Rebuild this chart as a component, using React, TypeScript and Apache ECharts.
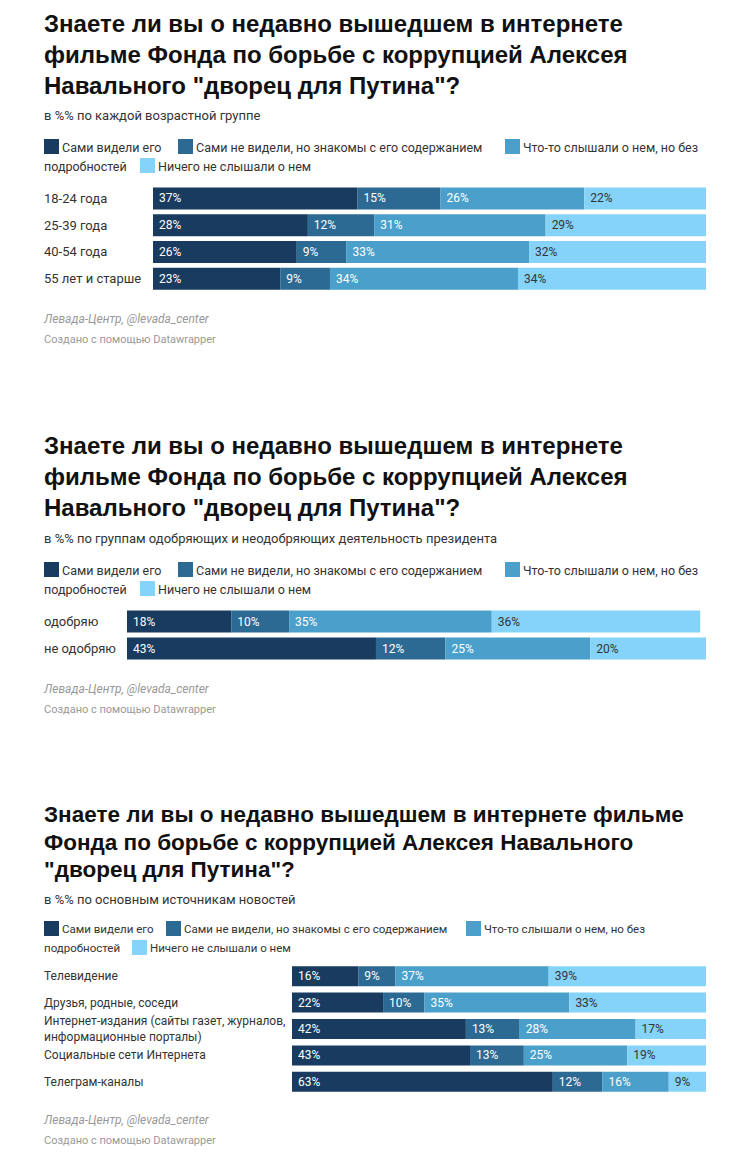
import { useEffect, useRef } from 'react'
import * as echarts from 'echarts'

const seriesNames = [
  'Сами видели его',
  'Сами не видели, но знакомы с его содержанием',
  'Что-то слышали о нем, но без подробностей',
  'Ничего не слышали о нем',
]
const colors = ['#183b5f', '#2c6a93', '#4a9fcb', '#85d3f8']

const ageGroups = ['18-24 года', '25-39 года', '40-54 года', '55 лет и старше']
const ageValues = [
  [37, 28, 26, 23],
  [15, 12, 9, 9],
  [26, 31, 33, 34],
  [22, 29, 32, 34],
]

const approvalGroups = ['одобряю', 'не одобряю']
const approvalValues = [
  [18, 43],
  [10, 12],
  [35, 25],
  [36, 20],
]

const sourceGroups = [
  'Телевидение',
  'Друзья, родные, соседи',
  'Интернет-издания (сайты газет, журналов,\nинформационные порталы)',
  'Социальные сети Интернета',
  'Телеграм-каналы',
]
const sourceValues = [
  [16, 22, 42, 43, 63],
  [9, 10, 13, 13, 12],
  [37, 35, 28, 25, 16],
  [39, 33, 17, 19, 9],
]

const titleText = 'Знаете ли вы о недавно вышедшем в интернете\nфильме Фонда по борьбе с коррупцией Алексея\nНавального "дворец для Путина"?'
const titleText3 = 'Знаете ли вы о недавно вышедшем в интернете фильме\nФонда по борьбе с коррупцией Алексея Навального\n"дворец для Путина"?'

const font = 'Roboto, "Liberation Sans", sans-serif'

function legendGraphic(top: number, xs: number[], fontSize: number) {
  const els: any[] = []
  const texts = ['Сами видели его', 'Сами не видели, но знакомы с его содержанием', 'Что-то слышали о нем, но без']
  ;[0, 1, 2].forEach((i) => {
    els.push({ type: 'rect', shape: { x: xs[i], y: top, width: 15, height: 15 }, style: { fill: colors[i] } })
    els.push({ type: 'text', x: xs[i] + 18, y: top + 8, style: { text: texts[i], fontSize, fontFamily: font, fill: '#333', verticalAlign: 'middle' } })
  })
  const top2 = top + 19
  els.push({ type: 'text', x: 44, y: top2 + 8, style: { text: 'подробностей', fontSize, fontFamily: font, fill: '#333', verticalAlign: 'middle' } })
  els.push({ type: 'rect', shape: { x: xs[3], y: top2, width: 15, height: 15 }, style: { fill: colors[3] } })
  els.push({ type: 'text', x: xs[3] + 18, y: top2 + 8, style: { text: 'Ничего не слышали о нем', fontSize, fontFamily: font, fill: '#333', verticalAlign: 'middle' } })
  return els
}

function titleGraphic(top: number, text: string, size: number, lh: number, sub: string, subTop: number) {
  return [
    { type: 'text', x: 44, y: top, style: { text, fontSize: size, fontWeight: 'bold', fontFamily: '"Liberation Sans", Arial, sans-serif', fill: '#111', lineHeight: lh } },
    { type: 'text', x: 44, y: subTop, style: { text: sub, fontSize: 13, fontFamily: font, fill: '#333' } },
  ]
}

function footerGraphic(top: number) {
  return [
    { type: 'text', x: 44, y: top, style: { text: 'Левада-Центр, @levada_center', fontSize: 12, fontStyle: 'italic', fontFamily: font, fill: '#999' } },
    { type: 'text', x: 44, y: top + 21, style: { text: 'Создано с помощью Datawrapper', fontSize: 11, fontFamily: font, fill: '#999' } },
  ]
}

export default function App() {
  const ref = useRef<HTMLDivElement>(null)

  useEffect(() => {
    document.body.style.margin = '0'
    if (!ref.current) return
    const chart = echarts.init(ref.current, undefined, { renderer: 'svg' })

    const grids = [
      { left: 153, right: 44, top: 185, height: 107 },
      { left: 127, right: 44, top: 608, height: 54 },
      { left: 292, right: 44, top: 963, height: 132 },
    ]
    const cats = [ageGroups, approvalGroups, sourceGroups]
    const vals = [ageValues, approvalValues, sourceValues]
    const barW = [22, 22, 20]

    const series: any[] = []
    vals.forEach((v, g) => {
      v.forEach((data, i) => {
        series.push({
          type: 'bar',
          name: seriesNames[i],
          stack: 's' + g,
          xAxisIndex: g,
          yAxisIndex: g,
          data,
          barWidth: barW[g],
          itemStyle: { color: colors[i] },
          label: {
            show: true,
            position: 'insideLeft',
            formatter: '{c}%',
            fontSize: 12,
            fontFamily: font,
            color: i === 3 ? '#333' : '#fff',
            distance: 6,
          },
        })
      })
    })

    chart.setOption({
      animation: false,
      grid: grids,
      xAxis: grids.map((_, g) => ({ type: 'value', gridIndex: g, min: 0, max: 100, show: false })),
      yAxis: grids.map((grid, g) => ({
        type: 'category',
        gridIndex: g,
        data: cats[g],
        inverse: true,
        axisLine: { show: false },
        axisTick: { show: false },
        axisLabel: {
          align: 'left',
          margin: grid.left - 44,
          fontSize: g === 2 ? 12 : 13,
          fontFamily: font,
          color: '#333',
          lineHeight: 16,
        },
      })),
      series,
      graphic: [
        ...titleGraphic(8, titleText, 24, 31, 'в %% по каждой возрастной группе', 109),
        ...legendGraphic(139, [44, 178, 505, 140], 12.5),
        ...footerGraphic(313),
        ...titleGraphic(430, titleText, 24, 31, 'в %% по группам одобряющих и неодобряющих деятельность президента', 532),
        ...legendGraphic(562, [44, 178, 505, 140], 12.5),
        ...footerGraphic(683),
        ...titleGraphic(801, titleText3, 22.5, 27.5, 'в %% по основным источникам новостей', 893),
        ...legendGraphic(921, [44, 166, 466, 132], 11.5),
        ...footerGraphic(1114),
      ],
    })

    return () => chart.dispose()
  }, [])

  return <div ref={ref} style={{ width: 750, height: 1156, background: '#fff' }} />
}
